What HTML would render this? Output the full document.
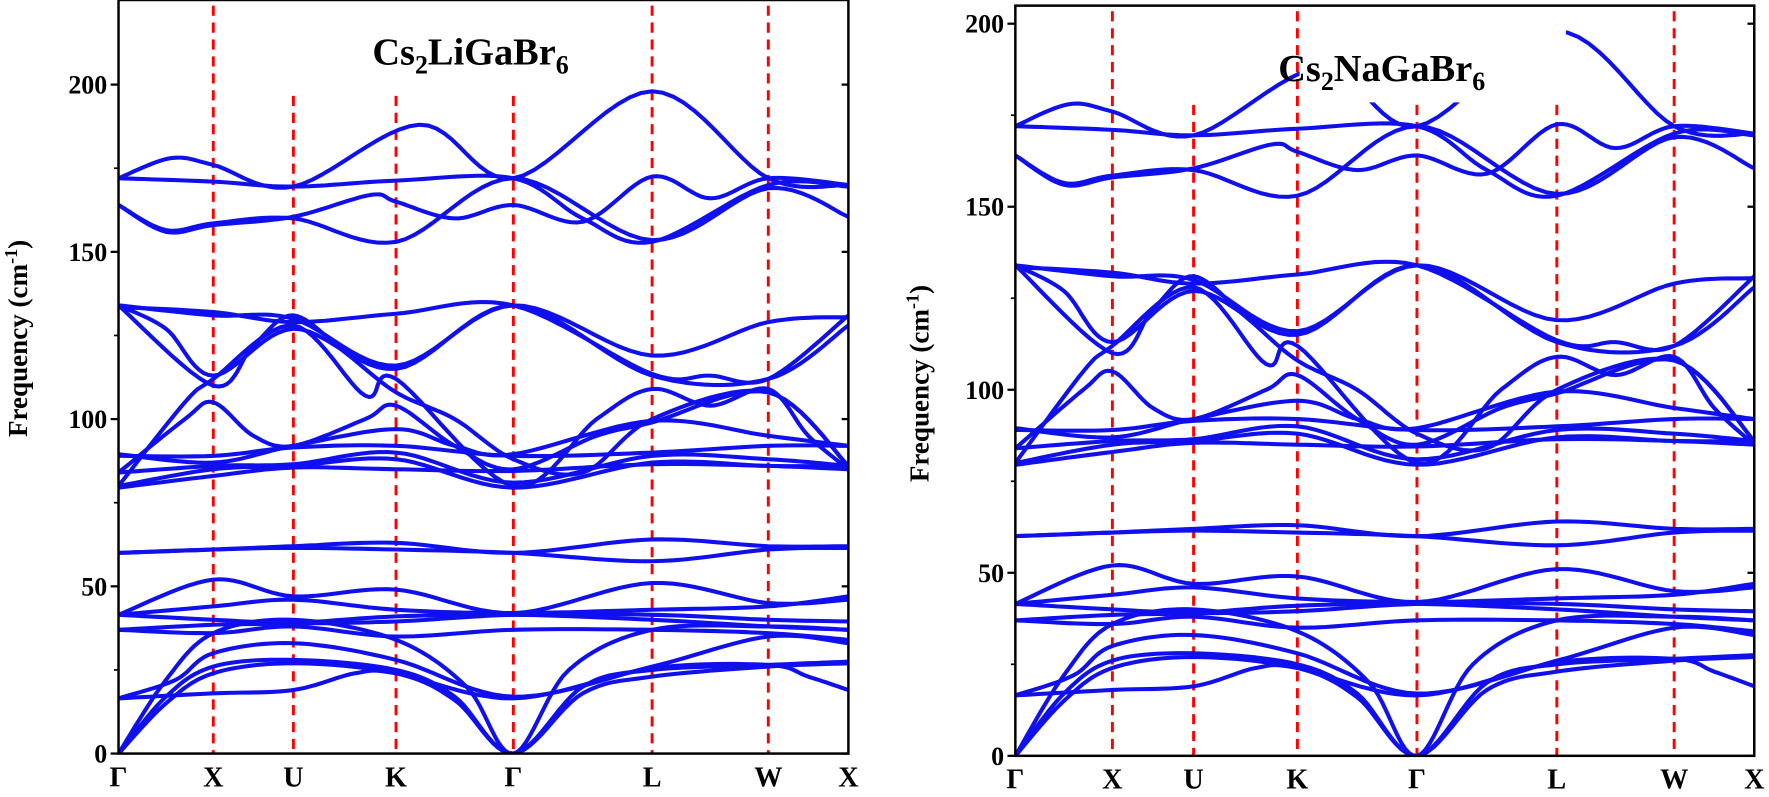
<!DOCTYPE html>
<html><head><meta charset="utf-8">
<style>html,body{margin:0;padding:0;background:#fff;}svg{display:block;}
text{font-family:"Liberation Serif",serif;font-weight:bold;fill:#000;}</style></head>
<body>
<svg id="s" width="1769" height="797" viewBox="0 0 1568 706.5" xmlns="http://www.w3.org/2000/svg">
<defs>
<clipPath id="cl"><rect x="105" y="0" width="647" height="668"/></clipPath>
<clipPath id="cr"><rect x="900" y="5" width="655" height="665"/></clipPath>
</defs>
<g id="L" clip-path="url(#cl)"></g>
<g id="R" clip-path="url(#cr)"></g>
<g id="ax"></g>
<text x="330" y="57" font-size="34">Cs<tspan font-size="23" dy="8">2</tspan><tspan dy="-8">LiGaBr</tspan><tspan font-size="23" dy="8">6</tspan></text>
<text x="1133" y="72" font-size="34">Cs<tspan font-size="23" dy="8">2</tspan><tspan dy="-8">NaGaBr</tspan><tspan font-size="23" dy="8">6</tspan></text>
<text transform="translate(24,300) rotate(-90)" text-anchor="middle" font-size="24">Frequency (cm<tspan font-size="16" dy="-9">-1</tspan><tspan dy="9">)</tspan></text>
<text transform="translate(823,340) rotate(-90)" text-anchor="middle" font-size="24">Frequency (cm<tspan font-size="16" dy="-9">-1</tspan><tspan dy="9">)</tspan></text>
</svg>
<script>
var NS="http://www.w3.org/2000/svg";
function el(p,t,a){var e=document.createElementNS(NS,t);for(var k in a)e.setAttribute(k,a[k]);p.appendChild(e);return e;}
var P={
 L:{n:[105,189,260,351,455,578,681,752],y0:668,k:2.965,top:0},
 R:{n:[900,986,1058,1150,1256,1380,1484,1555],y0:670,k:3.245,top:5}
};
var bands=[
[[0,0],[0.5,15],[1,24],[2,27],[3,24],[3.5,16],[4,0],[4.5,18],[5,23],[6,26],[7,27]],
[[0,0],[0.5,17],[1,26],[2,28],[3,25],[3.5,17],[4,0],[4.5,20],[5,25],[6,26.5],[7,27.5]],
[[0,0],[0.5,22],[1,36],[2,40],[3,34],[3.6,20],[4,0],[4.4,25],[5,37],[6,38],[7,37]],
[[0,16.5],[1,18],[2,19],[2.6,24],[3,24],[4,16.5],[5,25.5],[6,26.5],[6.5,23],[7,19]],
[[0,16.5],[0.6,22],[1,30],[2,33],[3,28],[4,17],[5,26],[6,35],[7,33]],
[[0,37],[1,36],[2,38],[3,35],[4,37],[5,37],[6,36],[7,34]],
[[0,37],[1,38.5],[2,39],[3,41],[4,41.5],[5,40],[6,38],[7,37]],
[[0,41.5],[1,40],[2,39],[3,39.5],[4,41.5],[5,41.5],[6,40],[7,39.5]],
[[0,41.5],[1,52],[2,47],[3,49],[4,42],[5,51],[6,45],[7,46]],
[[0,41.5],[1,44],[2,46],[3,43],[4,42],[5,43],[6,44],[7,47]],
[[0,60],[1,61],[2,62],[3,63],[4,60],[5,64],[6,62],[7,62]],
[[0,60],[1,61],[2,61.5],[3,61],[4,60],[5,57.5],[6,61],[7,61.5]],
[[0,79.5],[1,83],[2,85.5],[3,85],[4,84.5],[5,86.5],[6,86],[7,85]],
[[0,80],[1,85],[2,86],[3,88],[4,79.5],[5,87],[6,86],[7,86]],
[[0,84],[1,86],[2,86.5],[3,90],[4,81],[5,89],[6,88],[7,86]],
[[0,89],[1,89],[2,91.5],[3,92],[4,89],[5,90],[6,92],[7,92]],
[[0,89.5],[1,87],[2,92],[3,97],[3.5,92],[4,89.5],[5,99.5],[6,95],[7,92]],
[[0,84],[0.7,100],[1,105],[1.5,95],[2,92],[2.7,100],[3,104],[3.5,92],[4,85],[4.6,95],[5,99],[6,108],[7,86]],
[[0,80],[0.7,105],[1,112],[2,128],[2.7,107],[3,112],[4,80],[4.6,100],[5,109],[5.5,104],[6,109],[6.5,95],[7,85]],
[[0,134],[0.5,127],[1,113],[2,127],[3,115],[4,134],[5,113],[6,112],[7,128]],
[[0,134],[1,131],[2,130],[3,116],[4,134],[5,119],[6,129],[7,130.5]],
[[0,133.5],[1,132],[2,129],[3,131.5],[4,134],[5,113.5],[5.5,113],[6,112],[7,131]],
[[0,134],[1,110],[1.5,122],[2,131],[2.5,120],[3,108],[3.5,100],[4,88],[4.5,84],[5,100],[6,108],[7,86]],
[[0,172],[0.55,178],[1,176],[2,169.5],[3.2,188],[4,172],[5,198],[6,172],[7,170]],
[[0,172],[1,171],[2,169.5],[3,171.3],[4,172],[4.5,160],[5,153],[6,170],[7,169.5]],
[[0,164],[0.5,156],[1,158],[2,160.5],[2.75,167],[3,165],[3.5,160],[4,164],[4.5,159],[5,172.5],[5.5,166],[6,172],[7,170]],
[[0,164],[0.5,156.5],[1,158.5],[2,160],[3,153],[4,172],[5,153.5],[6,169],[7,160.5]]
];
function draw(id){
 var p=P[id],g=document.getElementById(id);
 function X(t){var i=Math.min(Math.floor(t),6),f=t-i;return p.n[i]+(p.n[i+1]-p.n[i])*f;}
 function Y(v){return p.y0-v*p.k;}
 var starts=id=="L"?[5,85,85,85,5,5]:[10,93,10,93,93,10];
 for(var i=1;i<7;i++)el(g,"line",{x1:p.n[i],x2:p.n[i],y1:starts[i-1],y2:p.y0,stroke:"#f00","stroke-width":2.6,"stroke-dasharray":"9,6"});
 bands.forEach(function(b){
  var pts=[];
  for(var i=0;i<b.length-1;i++){
   var p0=b[Math.max(i-1,0)],p1=b[i],p2=b[i+1],p3=b[Math.min(i+2,b.length-1)];
   var x0=X(p0[0]),x1=X(p1[0]),x2=X(p2[0]),x3=X(p3[0]);
   var y0=Y(p0[1]),y1=Y(p1[1]),y2=Y(p2[1]),y3=Y(p3[1]);
   var N=12;
   for(var s=0;s<N;s++){var t=s/N,t2=t*t,t3=t2*t;
    var xx=0.5*((2*x1)+(-x0+x2)*t+(2*x0-5*x1+4*x2-x3)*t2+(-x0+3*x1-3*x2+x3)*t3);
    var yy=0.5*((2*y1)+(-y0+y2)*t+(2*y0-5*y1+4*y2-y3)*t2+(-y0+3*y1-3*y2+y3)*t3);
    if(yy>p.y0)yy=p.y0;
    pts.push(xx.toFixed(1)+","+yy.toFixed(1));}
  }
  var l=b[b.length-1];pts.push(X(l[0]).toFixed(1)+","+Y(l[1]).toFixed(1));
  el(g,"polyline",{points:pts.join(" "),fill:"none",stroke:"#1010ee","stroke-width":3.6,"stroke-linejoin":"round"});
 });
 if(id=="R"){el(g,"rect",{x:1152,y:10,width:95,height:Y(178.5)-10,fill:"#fff"});el(g,"rect",{x:1268,y:10,width:120,height:Y(178.5)-10,fill:"#fff"});}
 var a=document.getElementById("ax");
 el(a,"rect",{x:p.n[0],y:p.top,width:p.n[7]-p.n[0],height:p.y0-p.top,fill:"none",stroke:"#000","stroke-width":2.2});
 for(var v=0;v<=200;v+=50){var y=Y(v);
  el(a,"line",{x1:p.n[0]-7,x2:p.n[0],y1:y,y2:y,stroke:"#000","stroke-width":2});
  el(a,"line",{x1:p.n[7]-6,x2:p.n[7],y1:y,y2:y,stroke:"#000","stroke-width":2});
  var t=el(a,"text",{x:p.n[0]-10,y:y+8,"font-size":23,"text-anchor":"end"});t.textContent=v;}
 for(var v=25;v<=200;v+=50){var y=Y(v);
  el(a,"line",{x1:p.n[0]-4,x2:p.n[0],y1:y,y2:y,stroke:"#000","stroke-width":1.5});}
 var labs=["Γ","X","U","K","Γ","L","W","X"];
 for(var i=0;i<8;i++){var t=el(a,"text",{x:p.n[i],y:p.y0+29,"font-size":25,"text-anchor":"middle"});t.textContent=labs[i];}
}
draw("L");draw("R");
</script>
</body></html>
